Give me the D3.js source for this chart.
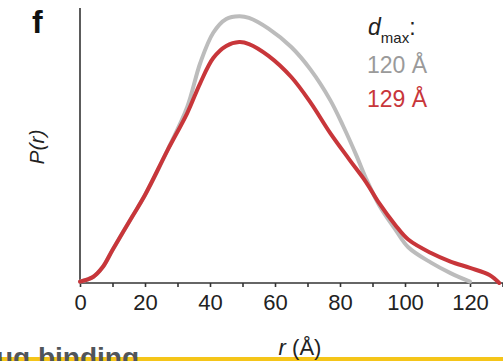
<!DOCTYPE html>
<html lang="en">
<head>
<meta charset="utf-8">
<title>P(r) distribution</title>
<script src="https://cdn.jsdelivr.net/npm/d3@7"></script>
<style>
  body { margin: 0; background: #fff; }
  svg { font-family: "Liberation Sans", Arial, sans-serif; display: block; }
  .axis path, .axis line { stroke: #333; stroke-width: 1.6px; }
  .axis text { font-size: 22px; fill: #222; }
</style>
</head>
<body>
<div id="chart"></div>
<script>
// distance r (Å) and P(r) (arbitrary units, 0-100 = axis height)
var rGray = [0, 4, 7, 10, 16, 20, 27, 33, 37, 41, 45, 49, 52, 58, 65, 71, 77, 81, 85, 88, 92, 97, 101, 108, 114, 120];
var pGray = [0.5, 2.2, 5.8, 12, 24, 32, 48.5, 64, 80, 91, 96, 97, 96.4, 92.5, 85.8, 77.5, 66.5, 57, 46.5, 38, 28.4, 19.5, 13, 7.4, 3.6, 0.5];

var rRed = [0, 4, 7, 10, 16, 20, 27, 33, 37, 41, 45, 49, 52, 58, 65, 71, 77, 83, 88, 92, 97, 101, 108, 114, 120, 126, 129];
var pRed = [0.5, 2.2, 5.8, 12, 24, 32, 48.4, 61.8, 72.7, 81.8, 86.2, 87.6, 86.9, 82.6, 74.9, 65.5, 54.5, 44.7, 36.7, 29.1, 21.1, 15.8, 10.9, 7.8, 5.5, 2.9, 0];

var xTicks = [0, 10, 20, 30, 40, 50, 60, 70, 80, 90, 100, 110, 120, 130];
var xLabels = [0, 20, 40, 60, 80, 100, 120];

var W = 503, H = 361;
var svg = d3.select("#chart").append("svg").attr("width", W).attr("height", H);

var x = d3.scaleLinear().domain([0, 130]).range([80, 80 + 130 * 3.25]);
var y = d3.scaleLinear().domain([0, 100]).range([283, 8]);

// cut-off heading from the next panel
svg.append("rect").attr("x", 0).attr("y", 357).attr("width", W).attr("height", 4).attr("fill", "#f5c518");
svg.append("text")
    .attr("x", -4).attr("y", 367)
    .attr("font-size", 28).attr("font-weight", "bold").attr("fill", "#50555a")
    .text("ug binding");

// axes
var xAxis = d3.axisBottom(x).tickValues(xTicks).tickSize(4).tickSizeOuter(0)
    .tickFormat(function(d) { return xLabels.indexOf(d) >= 0 ? d : ""; });
var gx = svg.append("g").attr("class", "axis")
    .attr("transform", "translate(0," + y(0) + ")")
    .call(xAxis);
gx.select(".domain").attr("d", "M" + x(0) + ",0H" + W);
gx.selectAll("text").attr("dy", "0.95em").attr("y", 6);

svg.append("line").attr("class", "axis")
    .attr("x1", x(0)).attr("x2", x(0)).attr("y1", 8).attr("y2", y(0))
    .attr("stroke", "#333").attr("stroke-width", 1.6);

var line = d3.line()
    .x(function(d) { return x(d[0]); })
    .y(function(d) { return y(d[1]); })
    .curve(d3.curveCatmullRom.alpha(0.5));

svg.append("path")
    .datum(d3.zip(rGray, pGray))
    .attr("d", line)
    .attr("fill", "none").attr("stroke", "#bcbcbc").attr("stroke-width", 4)
    .attr("stroke-linecap", "round");

svg.append("path")
    .datum(d3.zip(rRed, pRed))
    .attr("d", line)
    .attr("fill", "none").attr("stroke", "#c8363a").attr("stroke-width", 4)
    .attr("stroke-linecap", "round");

// labels
svg.append("text").attr("x", 32).attr("y", 33)
    .attr("font-size", 32).attr("font-weight", "bold").attr("fill", "#111").text("f");

svg.append("text")
    .attr("transform", "translate(44,147)rotate(-90)")
    .attr("text-anchor", "middle").attr("font-size", 21).attr("fill", "#222")
    .attr("font-style", "italic").text("P(r)");

var xl = svg.append("text").attr("x", 300).attr("y", 355)
    .attr("text-anchor", "middle").attr("font-size", 22).attr("fill", "#222");
xl.append("tspan").attr("font-style", "italic").text("r");
xl.append("tspan").text(" (Å)");

// legend
var lg = svg.append("text").attr("x", 368).attr("y", 35).attr("fill", "#222").attr("font-size", 23);
lg.append("tspan").attr("font-style", "italic").text("d");
lg.append("tspan").attr("font-size", 15).attr("dy", 8).text("max");
lg.append("tspan").attr("dy", -8).text(":");

svg.append("text").attr("x", 367).attr("y", 73).attr("font-size", 23).attr("fill", "#9a9a9a").text("120 Å");
svg.append("text").attr("x", 367).attr("y", 107).attr("font-size", 23).attr("fill", "#c8363a").text("129 Å");
</script>
</body>
</html>
